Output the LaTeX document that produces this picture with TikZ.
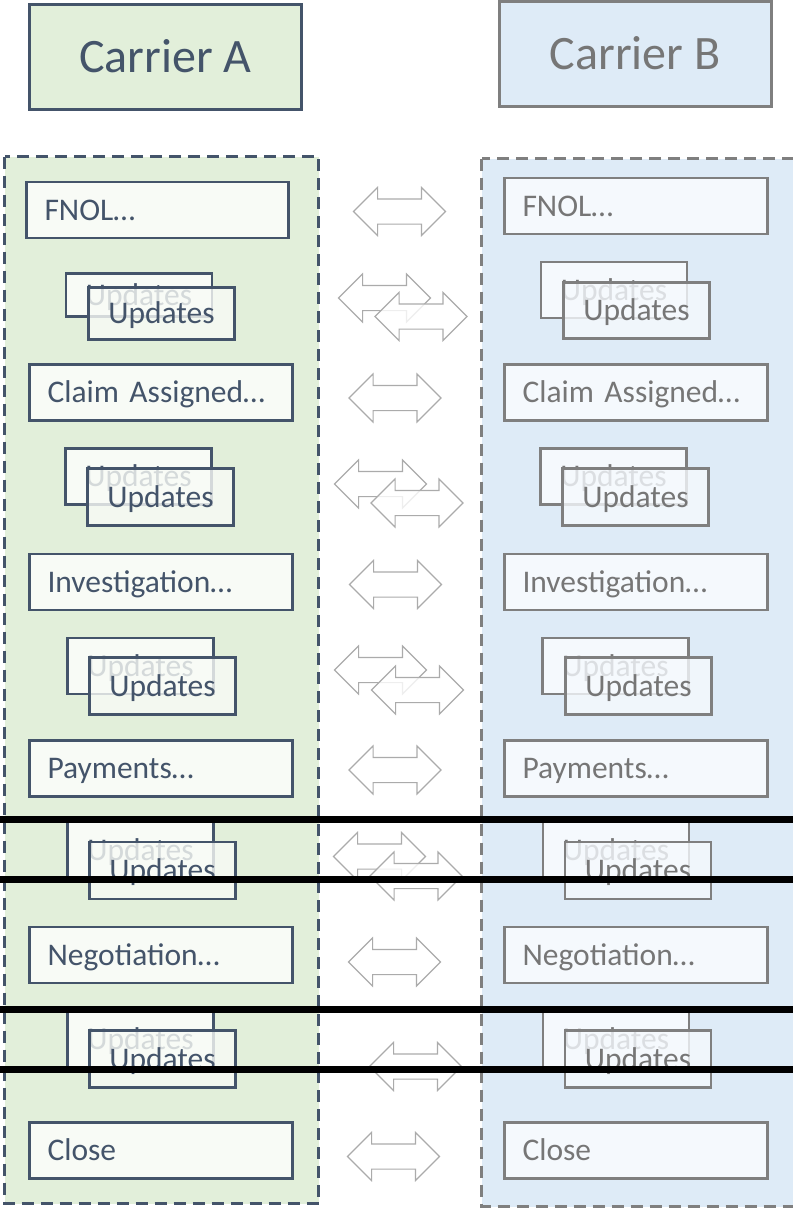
\documentclass[tikz,border=0pt]{standalone}
\usepackage{fontspec}
\setmainfont{Carlito}
\usetikzlibrary{shapes.arrows}

\definecolor{slate}{HTML}{44546A}
\definecolor{greenbg}{HTML}{E2EFDA}
\definecolor{greenbox}{HTML}{F8FBF6}
\definecolor{bluebg}{HTML}{DEEBF7}
\definecolor{bluebox}{HTML}{F5F9FD}
\definecolor{greyline}{HTML}{7F7F7F}
\definecolor{greytext}{HTML}{767676}
\definecolor{arrowgrey}{HTML}{ABABAB}

\newcommand\boxfont{\fontsize{31.5}{36}\selectfont}
\newcommand\headfont{\fontsize{48}{56}\selectfont}

\begin{document}
\begin{tikzpicture}[x=1pt,y=-1pt,
  lane/.style={line width=3pt, dash pattern=on 12pt off 7pt},
  laneA/.style={lane, draw=slate, fill=greenbg},
  laneB/.style={lane, draw=greyline, fill=bluebg},
  header/.style={line width=3pt, font=\headfont, inner sep=0pt,
    minimum width=272pt, minimum height=105pt, text height=34pt, text depth=3pt},
  headA/.style={header, draw=slate, fill=greenbg, text=slate},
  headB/.style={header, draw=greyline, fill=bluebg, text=greytext},
  card/.style={line width=2.6pt, font=\boxfont, inner sep=0pt,
    text height=23.5pt, text depth=3.3pt},
  cardA/.style={card, draw=slate, fill=greenbox, text=slate},
  cardB/.style={card, draw=greyline, fill=bluebox, text=greytext},
  stepA/.style={cardA, minimum width=263pt, minimum height=56pt,
    text width=227pt, inner xsep=18pt, align=left},
  stepB/.style={cardB, minimum width=263pt, minimum height=56pt,
    text width=227pt, inner xsep=18pt, align=left},
  backA/.style={cardA, minimum width=146pt, minimum height=56pt},
  backB/.style={cardB, minimum width=146pt, minimum height=56pt},
  frontA/.style={cardA, minimum width=146pt, minimum height=57pt, fill opacity=0.8, text opacity=1},
  frontB/.style={cardB, minimum width=146pt, minimum height=57pt, fill opacity=0.8, text opacity=1},
  swap/.style={double arrow, draw=arrowgrey, line width=1.1pt, fill=white,
    fill opacity=0.8, minimum height=92pt, inner sep=0pt, inner ysep=12pt,
    double arrow head extend=11.5pt, text height=0pt, text depth=0pt},
  bar/.style={line width=7pt, black}
]
\clip (0,0) rectangle (793,1211);

% swim lanes
\draw[laneA] (4.5,156.5) rectangle (318.5,1203.5);
\draw[laneB] (481.5,158.5) rectangle (796,1206.5);

% lane headers
\node[headA] (hdrA) at (165.5,57) {Carrier A};
\node[headB] (hdrB) at (635,54) {Carrier B};

% Carrier A steps
\node[stepA, minimum width=262pt, text width=226pt] (a1) at (157.5,210) {FNOL…};
\node[stepA] (a2) at (161,392.5) {Claim Assigned…};
\node[stepA] (a3) at (161,582) {Investigation…};
\node[stepA] (a4) at (161,768.5) {Payments…};
\node[stepA] (a5) at (161,955) {Negotiation…};
\node[stepA] (a6) at (161,1150.5) {Close};

% Carrier B steps
\node[stepB] (b1) at (636,206) {FNOL…};
\node[stepB] (b2) at (636,392.5) {Claim Assigned…};
\node[stepB] (b3) at (636,582) {Investigation…};
\node[stepB] (b4) at (636,768.5) {Payments…};
\node[stepB] (b5) at (636,955) {Negotiation…};
\node[stepB] (b6) at (636,1150.5) {Close};

% Carrier A update stacks
\node[backA, minimum height=43pt] (ua1b) at (139,295) {Updates};
\node[frontA, minimum height=52pt] (ua1f) at (161.5,313.5) {Updates};
\node[backA] (ua2b) at (138.5,476.5) {Updates};
\node[frontA] (ua2f) at (160.5,497) {Updates};
\node[backA] (ua3b) at (140.5,666) {Updates};
\node[frontA] (ua3f) at (162.5,686) {Updates};
\node[backA] (ua4b) at (140.5,850) {Updates};
\node[frontA] (ua4f) at (162.5,870.5) {Updates};
\node[backA] (ua5b) at (140.5,1039.5) {Updates};
\node[frontA] (ua5f) at (162.5,1059) {Updates};

% Carrier B update stacks
\node[backB] (ub1b) at (614,290) {Updates};
\node[frontB, minimum height=56pt] (ub1f) at (636.5,310.5) {Updates};
\node[backB] (ub2b) at (613.5,476.5) {Updates};
\node[frontB] (ub2f) at (635.5,497) {Updates};
\node[backB] (ub3b) at (615.5,666) {Updates};
\node[frontB] (ub3f) at (638.5,686) {Updates};
\node[backB] (ub4b) at (616,850) {Updates};
\node[frontB] (ub4f) at (638,870.5) {Updates};
\node[backB] (ub5b) at (616,1039.5) {Updates};
\node[frontB] (ub5f) at (638,1059) {Updates};

% exchanges between the carriers
\node[swap] (x1) at (399.5,211.5) {};
\node[swap] (x2a) at (384.5,298) {};
\node[swap] (x2b) at (421,316.5) {};
\node[swap] (x3) at (395,398) {};
\node[swap] (x4a) at (380.5,484) {};
\node[swap] (x4b) at (417,503) {};
\node[swap] (x5) at (395.5,584.5) {};
\node[swap] (x6a) at (380.5,670) {};
\node[swap] (x6b) at (417.5,690) {};
\node[swap] (x7) at (395,770) {};
\node[swap] (x8a) at (379.5,856.5) {};
\node[swap] (x8b) at (416,876) {};
\node[swap] (x9) at (394.5,962) {};
\node[swap] (x10) at (415.5,1066.5) {};
\node[swap] (x11) at (393.5,1156.5) {};

% heavy rules across the page
\draw[bar] (0,819.5) -- (793,819.5);
\draw[bar] (0,879.5) -- (793,879.5);
\draw[bar] (0,1009.5) -- (793,1009.5);
\draw[bar] (0,1069.5) -- (793,1069.5);
\end{tikzpicture}
\end{document}
